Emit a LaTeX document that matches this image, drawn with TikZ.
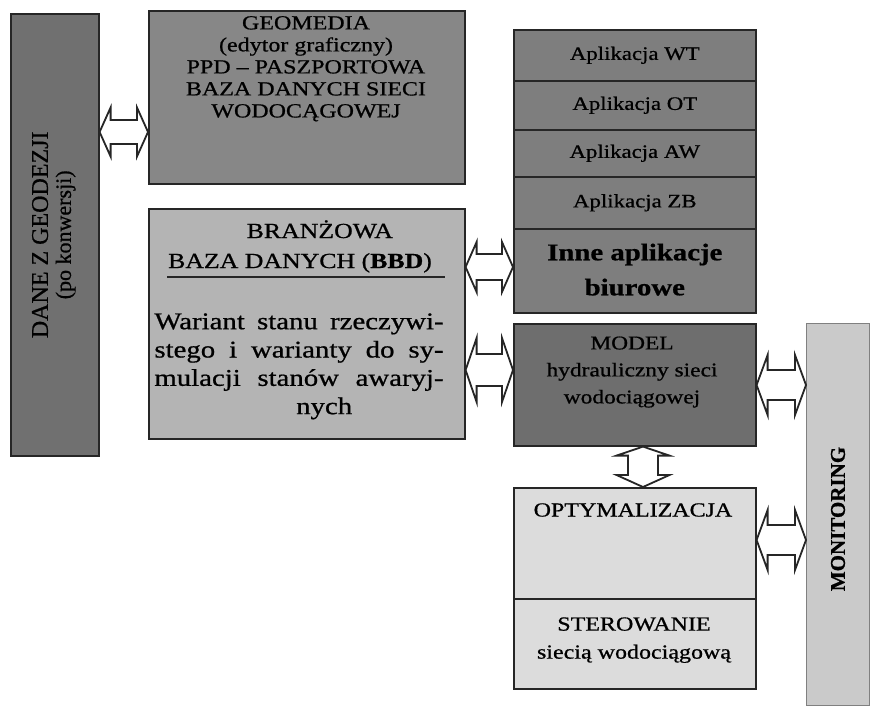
\documentclass[tikz,border=0pt]{standalone}
\usepackage{fontspec}
\setmainfont{Liberation Serif}[FakeBold=0.7]
\usepackage{graphicx}
\usetikzlibrary{calc}
\definecolor{cGeo}{HTML}{707070}
\definecolor{cGm}{HTML}{878787}
\definecolor{cApp}{HTML}{7E7E7E}
\definecolor{cBbd}{HTML}{B4B4B4}
\definecolor{cModel}{HTML}{6E6E6E}
\definecolor{cOpt}{HTML}{DCDCDC}
\definecolor{cMon}{HTML}{CACACA}
\newcommand{\fsz}[2]{\fontsize{#1pt}{#2pt}\selectfont}
\newcommand{\sx}[1]{\scalebox{1.2}[1]{#1}}
\newcommand{\lines}[1]{\begin{tabular}{@{}c@{}}#1\end{tabular}}
% horizontal hollow double arrow: left anchor, right anchor, y, half head, half shaft
\newcommand{\harrow}[5]{%
  \draw[hollow] let \p1=(#1 |- 0,#3), \p2=(#2 |- 0,#3) in
    (\p1) -- (\x1+11pt,\y1+#4pt) -- (\x1+11pt,\y1+#5pt) -- (\x2-11pt,\y1+#5pt)
    -- (\x2-11pt,\y1+#4pt) -- (\p2) -- (\x2-11pt,\y1-#4pt) -- (\x2-11pt,\y1-#5pt)
    -- (\x1+11pt,\y1-#5pt) -- (\x1+11pt,\y1-#4pt) -- cycle;}
% vertical hollow double arrow: top anchor, bottom anchor, x, half head, half shaft
\newcommand{\varrow}[5]{%
  \draw[hollow] let \p1=(#1 -| #3,0), \p2=(#2 -| #3,0) in
    (\p1) -- (\x1+#4pt,\y1-9pt) -- (\x1+#5pt,\y1-9pt) -- (\x1+#5pt,\y2+12pt)
    -- (\x1+#4pt,\y2+12pt) -- (\p2) -- (\x1-#4pt,\y2+12pt) -- (\x1-#5pt,\y2+12pt)
    -- (\x1-#5pt,\y1-9pt) -- (\x1-#4pt,\y1-9pt) -- cycle;}
\begin{document}
\begin{tikzpicture}[x=1pt,y=-1pt,
  box/.style={draw=black!85, line width=1.6pt, inner sep=0pt, anchor=north west},
  txt/.style={inner sep=0pt, align=center, text=black},
  hollow/.style={draw=black!85, line width=1.8pt, fill=white, line join=miter},
  sepline/.style={draw=black!85, line width=1.4pt}]
\useasboundingbox[fill=white] (0,0) rectangle (870,705);

% left box
\node[box, fill=cGeo, minimum width=88pt, minimum height=442pt, font=\fsz{22}{23}] (geo) at (10,13)
  {\rotatebox{90}{\lines{{\fsz{24}{23}DANE Z GEODEZJI}\\{\fsz{22}{23}(po konwersji)}}}};

% GEOMEDIA
\node[box, fill=cGm, minimum width=316pt, minimum height=173pt] (gm) at (148,10) {};
\node[txt, font=\fsz{20}{22}] (gmtext) at (306,69)
  {\sx{\lines{GEOMEDIA\\(edytor graficzny)\\PPD – PASZPORTOWA\\BAZA DANYCH SIECI\\WODOCĄGOWEJ}}};

% application stack
\node[box, fill=cApp, minimum width=242pt, minimum height=51pt, font=\fsz{19}{22}] (appWT) at (513,29) {\sx{Aplikacja WT}};
\node[box, fill=cApp, minimum width=242pt, minimum height=49pt, font=\fsz{19}{22}] (appOT) at (513,80) {\sx{Aplikacja OT}};
\node[box, fill=cApp, minimum width=242pt, minimum height=47pt, font=\fsz{19}{22}] (appAW) at (513,129) {\sx{Aplikacja AW}};
\node[box, fill=cApp, minimum width=242pt, minimum height=52pt, font=\fsz{19}{22}] (appZB) at (513,176) {\sx{Aplikacja ZB}};
\node[box, fill=cApp, minimum width=242pt, minimum height=84pt, font=\fsz{24}{35}\bfseries] (appInne) at (513,228)
  {\sx{\lines{Inne aplikacje\\biurowe}}};

% BBD
\node[box, fill=cBbd, minimum width=316pt, minimum height=230pt] (bbd) at (148,208) {};
\node[txt, font=\fsz{21.5}{30}] (bbdtitle) at (300,247)
  {\sx{\lines{\hspace*{33pt}BRANŻOWA\\BAZA DANYCH (\textbf{BBD})}}};
\draw[sepline] ($(bbd.north west)+(19,69)$) -- ($(bbd.north west)+(297,69)$);
\node[txt, font=\fsz{24}{28.3}] (bbdbody) at (299,366)
  {\sx{\lines{\makebox[241pt][s]{Wariant stanu rzeczywi-}\\
   \makebox[241pt][s]{stego i warianty do sy-}\\
   \makebox[241pt][s]{mulacji stanów awaryj-}\\
   \hspace*{42pt}nych}}};

% MODEL
\node[box, fill=cModel, minimum width=242pt, minimum height=122pt] (model) at (513,323) {};
\node[txt, font=\fsz{19.5}{27}] (modeltext) at (632,371)
  {\sx{\lines{MODEL\\hydrauliczny sieci\\wodociągowej}}};

% OPTYMALIZACJA / STEROWANIE
\node[box, fill=cOpt, minimum width=242pt, minimum height=111pt] (opt) at (513,487) {};
\node[box, fill=cOpt, minimum width=242pt, minimum height=90pt] (ster) at (513,598) {};
\node[txt, font=\fsz{20}{28}] (opttext) at (633,510) {\sx{OPTYMALIZACJA}};
\node[txt, font=\fsz{20}{28}] (stertext) at (634,639) {\sx{\lines{STEROWANIE\\siecią wodociągową}}};

% MONITORING
\node[box, fill=cMon, draw=black!50, line width=1pt, minimum width=63pt, minimum height=382pt] (mon) at (806,323) {};
\node[txt, font=\fsz{21}{24}\bfseries] (montext) at (838,519) {\rotatebox{90}{MONITORING}};

% arrows
\harrow{geo.east}{gm.west}{132}{24.5}{12}
\harrow{bbd.east}{appInne.west}{267}{25}{13}
\harrow{bbd.east}{model.west}{370}{32}{16}
\harrow{model.east}{mon.west}{385}{30}{15}
\harrow{opt.east}{mon.west}{540}{30}{15}
\varrow{model.south}{opt.north}{643}{26.5}{15}
\end{tikzpicture}
\end{document}
